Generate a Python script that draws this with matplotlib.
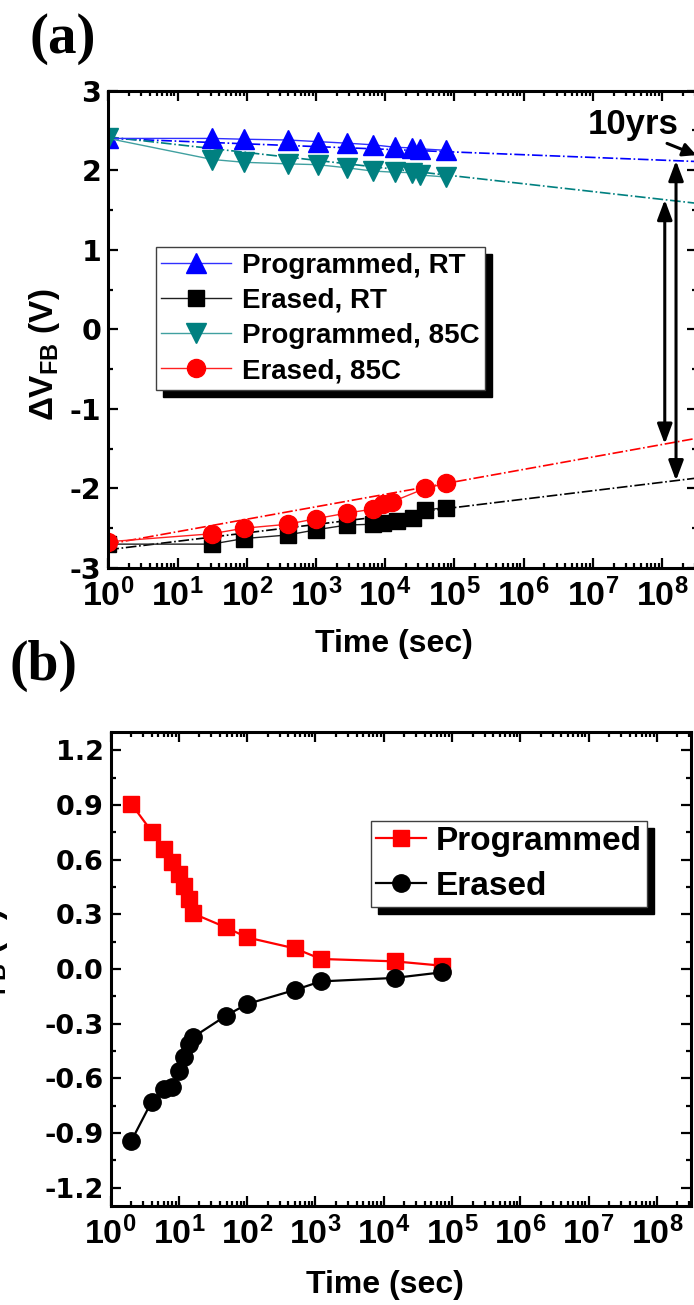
import numpy as np
import matplotlib
matplotlib.use('Agg')
import matplotlib.pyplot as plt
from matplotlib.ticker import LogLocator, MultipleLocator, FuncFormatter, NullFormatter, FormatStrFormatter

plt.rcParams['font.family'] = 'DejaVu Sans'
plt.rcParams['font.weight'] = 'bold'
plt.rcParams['axes.unicode_minus'] = False
plt.rcParams['mathtext.fontset'] = 'custom'
plt.rcParams['mathtext.rm'] = 'Liberation Sans:bold'
plt.rcParams['mathtext.bf'] = 'Liberation Sans:bold'
plt.rcParams['mathtext.it'] = 'Liberation Sans:bold'

ARIAL = 'Liberation Sans'

# (a) retention at room temperature and 85C
t_prog_rt = [1, 32, 92, 400, 1060, 2840, 6600, 13700, 24700, 31800, 77000]
v_prog_rt = [2.40, 2.40, 2.39, 2.38, 2.36, 2.34, 2.32, 2.29, 2.28, 2.27, 2.25]
t_ers_rt = [1, 31, 91, 390, 1000, 2790, 6600, 9400, 14700, 25500, 37700, 77000]
v_ers_rt = [-2.70, -2.70, -2.63, -2.585, -2.52, -2.46, -2.45, -2.43, -2.41, -2.375, -2.27, -2.24]
t_prog_85 = [1, 32, 92, 400, 1060, 2840, 6600, 13700, 24700, 31800, 77000]
v_prog_85 = [2.40, 2.135, 2.10, 2.08, 2.07, 2.03, 1.99, 1.975, 1.97, 1.94, 1.915]
t_ers_85 = [1, 31, 91, 390, 1000, 2790, 6600, 9400, 12450, 37700, 77000]
v_ers_85 = [-2.67, -2.57, -2.50, -2.45, -2.38, -2.31, -2.26, -2.195, -2.17, -2.00, -1.935]

# extrapolation out to 10 years
t_fit = [1, 3.15e8]
fit_prog_rt = [2.40, 2.11]
fit_ers_rt = [-2.77, -1.87]
fit_prog_85 = [2.42, 1.585]
fit_ers_85 = [-2.70, -1.37]
t_window_85 = 1.1e8
t_window_rt = 1.6e8

# (b) transient after program / erase
t_b = [2, 4, 6, 8, 10, 12, 14, 16, 49, 100, 500, 1200, 14400, 72000]
v_b_prog = [0.907, 0.754, 0.657, 0.588, 0.52, 0.456, 0.383, 0.305, 0.228, 0.173, 0.113, 0.055, 0.042, 0.018]
v_b_ers = [-0.945, -0.727, -0.658, -0.645, -0.557, -0.48, -0.41, -0.375, -0.256, -0.192, -0.115, -0.068, -0.049, -0.018]

W, H = 694, 1305
fig = plt.figure(figsize=(W / 100, H / 100), dpi=100)


def px_axes(left, top, right, bottom):
    return fig.add_axes([left / W, 1 - bottom / H, (right - left) / W, (bottom - top) / H])


def log_label(v, pos):
    return r'$\mathrm{10^{%d}}$' % int(round(np.log10(v)))


def style_axes(ax, ytick_size):
    ax.set_xscale('log')
    ax.set_xlim(1, 10 ** 8.5)
    ax.xaxis.set_major_locator(LogLocator(base=10, numticks=20))
    ax.xaxis.set_minor_locator(LogLocator(base=10, subs=np.arange(2, 10), numticks=20))
    ax.xaxis.set_major_formatter(FuncFormatter(log_label))
    ax.xaxis.set_minor_formatter(NullFormatter())
    for s in ax.spines.values():
        s.set_linewidth(2.2)
    ax.tick_params(which='both', direction='in', top=True, right=True, width=1.6)
    ax.tick_params(which='major', length=7)
    ax.tick_params(which='minor', length=3.5)
    ax.tick_params(axis='x', which='major', labelsize=24.5, pad=7.5)
    ax.tick_params(axis='y', which='major', labelsize=ytick_size, pad=5)
    ax.set_xlabel('Time (sec)', fontsize=23, fontfamily=ARIAL, fontweight='bold')


# ---- panel (a)
ax = px_axes(108.3, 90.7, 696.5, 568)
style_axes(ax, 20.5)
ax.set_ylim(-3, 3)
ax.yaxis.set_major_locator(MultipleLocator(1))
ax.yaxis.set_minor_locator(MultipleLocator(0.5))
ax.yaxis.set_major_formatter(FormatStrFormatter('%d'))

ax.plot(t_fit, fit_prog_rt, '-.', color='#0000ff', lw=1.2)
ax.plot(t_fit, fit_ers_rt, '-.', color='black', lw=1.2)
ax.plot(t_fit, fit_prog_85, '-.', color='#008080', lw=1.2)
ax.plot(t_fit, fit_ers_85, '-.', color='#ff0000', lw=1.2)

ax.plot(t_prog_rt, v_prog_rt, '-', color='#3030ff', lw=1.0, marker='^', ms=15,
        mfc='#0000ff', mec='#0000ff', label='Programmed, RT')
ax.plot(t_ers_rt, v_ers_rt, '-', color='#202020', lw=1.0, marker='s', ms=12,
        mfc='black', mec='black', label='Erased, RT')
ax.plot(t_prog_85, v_prog_85, '-', color='#40a0a0', lw=1.0, marker='v', ms=15,
        mfc='#008080', mec='#008080', label='Programmed, 85C')
ax.plot(t_ers_85, v_ers_85, '-', color='#ff2020', lw=1.0, marker='o', ms=13,
        mfc='#ff0000', mec='#ff0000', label='Erased, 85C')

# memory window arrows at the 10-year point
lt = np.log10(t_fit)
for tw, up, down in [(t_window_85, fit_prog_85, fit_ers_85), (t_window_rt, fit_prog_rt, fit_ers_rt)]:
    y_top = np.interp(np.log10(tw), lt, up)
    y_bot = np.interp(np.log10(tw), lt, down)
    ax.annotate('', xy=(tw, y_bot), xytext=(tw, y_top),
                arrowprops=dict(arrowstyle='<|-|>,head_length=0.8,head_width=0.3', lw=2.2,
                                color='black', mutation_scale=15, shrinkA=0, shrinkB=0))

ax.annotate('10yrs', xy=(3.15e8, 2.19), xytext=(3.8e7, 2.58), ha='center', va='center',
            fontsize=25, fontfamily=ARIAL, fontweight='bold', annotation_clip=False,
            arrowprops=dict(arrowstyle='-|>', lw=2.2, color='black', mutation_scale=20,
                            relpos=(0.8, 0.0), shrinkA=0, shrinkB=0))

ax.set_ylabel(r'$\Delta\mathbf{V}_{\mathbf{FB}}$ (V)', fontsize=24, fontfamily=ARIAL, fontweight='bold')
ax.yaxis.set_label_coords(-0.0787, 0.446)
ax.xaxis.set_label_coords(0.486, -0.128)

leg = ax.legend(loc='upper left', bbox_to_anchor=(0.081, 0.6725), borderaxespad=0,
                prop=dict(family=ARIAL, weight='bold', size=20), fancybox=False,
                edgecolor='0.25', framealpha=1, borderpad=0.2, labelspacing=0.33,
                handlelength=2.5, handletextpad=0.4,
                shadow={'ox': 5, 'oy': -5, 'color': 'black', 'alpha': 1})
leg.get_frame().set_linewidth(1.0)

# ---- panel (b)
bx = px_axes(110.6, 732, 691, 1206)
style_axes(bx, 19.5)
bx.set_ylim(-1.3, 1.3)
bx.yaxis.set_major_locator(MultipleLocator(0.3))
bx.yaxis.set_minor_locator(MultipleLocator(0.15))
bx.yaxis.set_major_formatter(FormatStrFormatter('%.1f'))

bx.plot(t_b, v_b_prog, '-', color='#ff0000', lw=1.6, marker='s', ms=11, label='Programmed')
bx.plot(t_b, v_b_ers, '-', color='black', lw=1.6, marker='o', ms=12.5, label='Erased')

bx.set_ylabel(r'$\Delta\mathbf{V}_{\mathbf{FB}}$ (V)', fontsize=24, fontfamily=ARIAL, fontweight='bold')
bx.yaxis.set_label_coords(-0.173, 0.487)
bx.xaxis.set_label_coords(0.473, -0.135)

leg = bx.legend(loc='upper left', bbox_to_anchor=(0.448, 0.813), borderaxespad=0,
                prop=dict(family=ARIAL, weight='bold', size=24), fancybox=False,
                edgecolor='0.25', framealpha=1, borderpad=0.15, labelspacing=0.42,
                handlelength=1.5, handletextpad=0.3,
                shadow={'ox': 5, 'oy': -5, 'color': 'black', 'alpha': 1})
leg.get_frame().set_linewidth(1.0)

fig.text(29 / W, 1 - 13 / H, '(a)', ha='left', va='top', fontsize=41,
         fontfamily='Liberation Serif', fontweight='bold')
fig.text(9 / W, 1 - 640 / H, '(b)', ha='left', va='top', fontsize=40,
         fontfamily='Liberation Serif', fontweight='bold')

fig.savefig('out.png', dpi=100)
